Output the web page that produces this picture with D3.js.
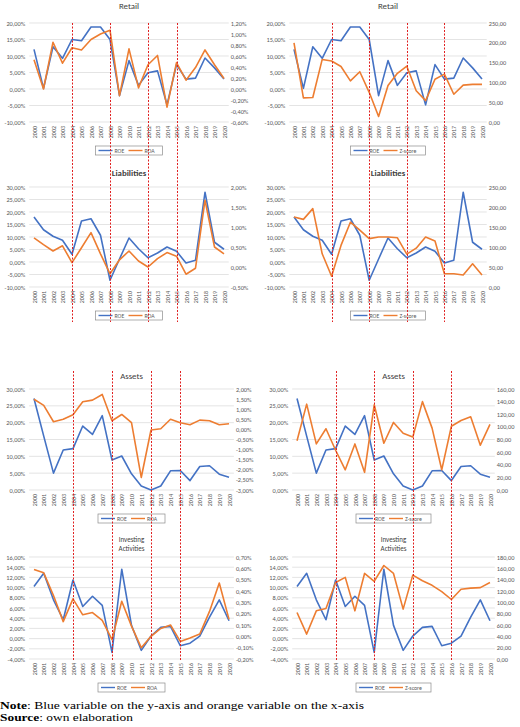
<!DOCTYPE html>
<html><head><meta charset="utf-8">
<script src="https://cdn.jsdelivr.net/npm/d3@7"></script>
<style>body{margin:0;background:#fff}svg{display:block}</style>
</head><body><svg id="c" width="520" height="727"></svg>
<script>
const years = [2000,2001,2002,2003,2004,2005,2006,2007,2008,2009,2010,2011,2012,2013,2014,2015,2016,2017,2018,2019,2020];

const retailROE = [12.0,0.2,12.8,9.3,15.0,14.6,18.8,18.8,15.0,-2.0,8.6,1.1,4.9,5.5,-4.8,7.4,3.0,3.3,9.4,6.4,3.0];
const retailROA = [0.53,0.00,0.85,0.47,0.75,0.71,0.90,1.00,1.07,-0.12,0.73,0.02,0.44,0.61,-0.33,0.48,0.16,0.39,0.71,0.44,0.19];
const retailZ   = [200,61,62,158,154,140,104,127,75,14,92,123,141,79,54,108,121,70,93,95,95];

const liabROE = [18.0,12.9,10.3,8.7,3.1,16.4,17.3,10.7,-7.3,1.2,9.6,5.3,1.7,3.6,6.0,4.3,-0.4,0.7,27.9,7.9,5.1];
const liabROA = [0.73,0.56,0.40,0.53,0.11,0.48,0.86,0.33,-0.17,0.18,0.40,0.15,0.00,0.21,0.36,0.27,-0.18,-0.03,1.67,0.50,0.33];
const liabZ   = [175,169,196,83,27,104,162,142,121,125,125,123,82,97,125,115,33,33,30,58,30];

const assetsROE = [27.2,16.0,5.0,11.9,12.3,19.0,16.5,22.1,8.9,10.1,4.8,1.2,0.0,1.2,5.7,5.8,2.8,7.0,7.2,4.7,3.8];
const assetsROA = [1.49,1.19,0.38,0.50,0.73,1.37,1.45,1.73,0.43,0.74,0.33,-2.38,-0.03,0.03,0.50,0.33,0.23,0.46,0.43,0.23,0.28];
const assetsZ   = [78,136,73,97,63,32,73,28,135,74,107,90,84,140,98,32,101,110,116,71,104];

const investROE = [10.2,12.8,7.6,3.7,11.5,6.3,8.3,6.5,-2.7,13.6,2.6,-2.3,0.5,2.2,2.4,-1.4,-0.9,0.5,4.2,7.6,3.5];
const investROA = [0.59,0.56,0.36,0.13,0.33,0.19,0.21,0.14,-0.03,0.31,0.09,-0.10,0.00,0.07,0.10,-0.045,-0.015,0.02,0.22,0.47,0.15];
const investZ   = [82,44,85,89,135,144,85,151,137,165,151,88,148,138,130,119,105,123,125,126,135];

// tick values
const ticksRetailL = [-10,-5,0,5,10,15,20];
const ticksRetailROA = [-0.6,-0.4,-0.2,0,0.2,0.4,0.6,0.8,1.0,1.2];
const ticksZ250 = [0,50,100,150,200,250];
const ticksLiabL = [-10,-5,0,5,10,15,20,25,30];
const ticksLiabROA = [-0.5,0,0.5,1.0,1.5,2.0];
const ticksAssetsL = [0,5,10,15,20,25,30];
const ticksAssetsROA = [-3.0,-2.5,-2.0,-1.5,-1.0,-0.5,0,0.5,1.0,1.5,2.0];
const ticksAssetsZ = [0,20,40,60,80,100,120,140,160];
const ticksInvestL = [-4,-2,0,2,4,6,8,10,12,14,16];
const ticksInvestROA = [-0.2,-0.1,0,0.1,0.2,0.3,0.4,0.5,0.6,0.7];
const ticksInvestZ = [0,20,40,60,80,100,120,140,160,180];

// break years (red dotted lines)
const breaksLeft = [2004,2008,2012,2015];
const breaksRight = [2004,2008,2012,2016];

const BLUE = "#4472C4", ORANGE = "#ED7D31", GRID = "#d9d9d9", TXT = "#595959";
const FONT = "Carlito, Lato, sans-serif";

const fmtPct = v => d3.format(".2f")(v).replace("−","-").replace(".",",") + "%";
const fmtNum = v => d3.format(".2f")(v).replace("−","-").replace(".",",");

const svg = d3.select("#c");
svg.append("rect").attr("width",520).attr("height",727).attr("fill","#fff");

const L1 = [29.25, 228.75], R1 = [289.3, 486.7];
const L2 = [29.1, 233.9],  R2 = [292.2, 494.8];

const panels = [
  {title:["Retail"], tsize:8.8, tw:400, xr:L1, yt:23, yb:122, lDom:[-10,20], lT:ticksRetailL, rDom:[-0.6,1.2], rT:ticksRetailROA, rFmt:fmtPct, a:retailROE, b:retailROA, bName:"ROA", ty:9},
  {title:["Retail"], tsize:8.8, tw:400, xr:R1, yt:23, yb:122, lDom:[-10,20], lT:ticksRetailL, rDom:[0,250], rT:ticksZ250, rFmt:fmtNum, a:retailROE, b:retailZ, bName:"Z-score", ty:9},
  {title:["Liabilities"], tsize:8.8, tw:700, xr:L1, yt:187, yb:287, lDom:[-10,30], lT:ticksLiabL, rDom:[-0.5,2.0], rT:ticksLiabROA, rFmt:fmtPct, a:liabROE, b:liabROA, bName:"ROA", ty:176},
  {title:["Liabilities"], tsize:8.8, tw:700, xr:R1, yt:187, yb:287, lDom:[-10,30], lT:ticksLiabL, rDom:[0,250], rT:ticksZ250, rFmt:fmtNum, a:liabROE, b:liabZ, bName:"Z-score", ty:176},
  {title:["Assets"], tsize:8.8, tw:400, xr:L2, yt:389, yb:490, lDom:[0,30], lT:ticksAssetsL, rDom:[-3,2], rT:ticksAssetsROA, rFmt:fmtPct, a:assetsROE, b:assetsROA, bName:"ROA", ty:379},
  {title:["Assets"], tsize:8.8, tw:400, xr:R2, yt:389, yb:490, lDom:[0,30], lT:ticksAssetsL, rDom:[0,160], rT:ticksAssetsZ, rFmt:fmtNum, a:assetsROE, b:assetsZ, bName:"Z-score", ty:379},
  {title:["Investing","Activities"], tsize:7, tw:400, xr:L2, yt:557, yb:659, lDom:[-4,16], lT:ticksInvestL, rDom:[-0.2,0.7], rT:ticksInvestROA, rFmt:fmtPct, a:investROE, b:investROA, bName:"ROA", ty:542},
  {title:["Investing","Activities"], tsize:7, tw:400, xr:R2, yt:557, yb:659, lDom:[-4,16], lT:ticksInvestL, rDom:[0,180], rT:ticksInvestZ, rFmt:fmtNum, a:investROE, b:investZ, bName:"Z-score", ty:542}
];

const xScales = [];
panels.forEach((p,i) => {
  const g = svg.append("g");
  const x = d3.scalePoint().domain(years).range(p.xr).padding(0.5);
  xScales.push(x);
  const yL = d3.scaleLinear().domain(p.lDom).range([p.yb,p.yt]);
  const yR = d3.scaleLinear().domain(p.rDom).range([p.yb,p.yt]);

  g.append("g").selectAll("line").data(p.lT).join("line")
    .attr("x1",p.xr[0]).attr("x2",p.xr[1])
    .attr("y1",d=>yL(d)).attr("y2",d=>yL(d))
    .attr("stroke",GRID).attr("stroke-width",0.7);

  const ax = g.append("g").attr("transform",`translate(${p.xr[0]},0)`)
    .call(d3.axisLeft(yL).tickValues(p.lT).tickSize(0).tickPadding(4).tickFormat(fmtPct));
  ax.select(".domain").remove();
  ax.selectAll("text").attr("font-family",FONT).attr("font-size",6.3).attr("fill",TXT);

  const ar = g.append("g").attr("transform",`translate(${p.xr[1]},0)`)
    .call(d3.axisRight(yR).tickValues(p.rT).tickSize(0).tickPadding(2).tickFormat(p.rFmt));
  ar.select(".domain").remove();
  ar.selectAll("text").attr("font-family",FONT).attr("font-size",6.3).attr("fill",TXT);

  const ab = g.append("g").attr("transform",`translate(0,${p.yb})`)
    .call(d3.axisBottom(x).tickSize(0));
  ab.select(".domain").remove();
  ab.selectAll("text").attr("font-family",FONT).attr("font-size",6).attr("fill",TXT)
    .attr("transform","rotate(-90)").attr("text-anchor","end")
    .attr("x",-4).attr("y",0).attr("dy","0.35em");

  const lineA = d3.line().x((d,j)=>x(years[j])).y(d=>yL(d));
  const lineB = d3.line().x((d,j)=>x(years[j])).y(d=>yR(d));
  g.append("path").datum(p.a).attr("d",lineA).attr("fill","none")
    .attr("stroke",BLUE).attr("stroke-width",1.6).attr("stroke-linejoin","round");
  g.append("path").datum(p.b).attr("d",lineB).attr("fill","none")
    .attr("stroke",ORANGE).attr("stroke-width",1.6).attr("stroke-linejoin","round");

  const cx = (p.xr[0]+p.xr[1])/2;
  p.title.forEach((t,k) => {
    g.append("text").attr("x",cx).attr("y",p.ty + k*9).attr("text-anchor","middle")
      .attr("font-family",FONT).attr("font-size",p.tsize).attr("font-weight",p.tw)
      .attr("fill","#404040").text(t);
  });

  const wide = p.bName === "Z-score";
  const bw = wide ? 75 : 67, bh = 9;
  const lx = cx - bw/2, ly = p.yb + 24;
  const lg = g.append("g");
  lg.append("rect").attr("x",lx).attr("y",ly).attr("width",bw).attr("height",bh)
    .attr("fill","#fff").attr("stroke","#8c8c8c").attr("stroke-width",0.7);
  const my = ly + bh/2;
  lg.append("line").attr("x1",lx+3).attr("x2",lx+17).attr("y1",my).attr("y2",my).attr("stroke",BLUE).attr("stroke-width",1.4);
  lg.append("text").attr("x",lx+19).attr("y",my).attr("dy","0.35em").attr("font-family",FONT).attr("font-size",5.8).attr("fill",TXT).text("ROE");
  lg.append("line").attr("x1",lx+33).attr("x2",lx+47).attr("y1",my).attr("y2",my).attr("stroke",ORANGE).attr("stroke-width",1.4);
  lg.append("text").attr("x",lx+49).attr("y",my).attr("dy","0.35em").attr("font-family",FONT).attr("font-size",5.8).attr("fill",TXT).text(p.bName);
});

const breakSets = [
  {x:xScales[0], yrs:breaksLeft,  y1:23,  y2:322},
  {x:xScales[1], yrs:breaksRight, y1:23,  y2:322},
  {x:xScales[4], yrs:breaksLeft,  y1:371, y2:660},
  {x:xScales[5], yrs:breaksRight, y1:371, y2:660}
];
breakSets.forEach(s => {
  svg.append("g").selectAll("line").data(s.yrs).join("line")
    .attr("x1",d=>Math.round(s.x(d))+0.5).attr("x2",d=>Math.round(s.x(d))+0.5)
    .attr("y1",s.y1).attr("y2",s.y2)
    .attr("stroke","#e02020").attr("stroke-width",1).attr("stroke-dasharray","2,1.5");
});

const SERIF = "Liberation Serif, 'Times New Roman', serif";
const note = svg.append("text").attr("x",0).attr("y",709).attr("font-family",SERIF).attr("font-size",11).attr("fill","#000")
  .attr("textLength",364).attr("lengthAdjust","spacingAndGlyphs");
note.append("tspan").attr("font-weight","bold").text("Note");
note.append("tspan").text(": Blue variable on the y-axis and orange variable on the x-axis");
const src = svg.append("text").attr("x",0).attr("y",721).attr("font-family",SERIF).attr("font-size",11).attr("fill","#000")
  .attr("textLength",133).attr("lengthAdjust","spacingAndGlyphs");
src.append("tspan").attr("font-weight","bold").text("Source");
src.append("tspan").text(": own elaboration");
</script>
</body></html>
